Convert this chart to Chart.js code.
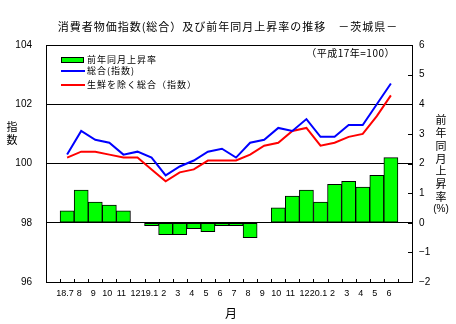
<!DOCTYPE html>
<html lang="ja">
<head>
<meta charset="utf-8">
<title>消費者物価指数の推移 茨城県</title>
<script src="https://cdn.jsdelivr.net/npm/chart.js@4"></script>
<style>
  html, body { margin: 0; padding: 0; background: #fff; }
</style>
</head>
<body>
<canvas id="cpiChart" width="456" height="324"></canvas>
<script>
// Months, H18.7 - H20.6
const months = ['18.7', '8', '9', '10', '11', '12', '19.1', '2', '3', '4', '5', '6',
                '7', '8', '9', '10', '11', '12', '20.1', '2', '3', '4', '5', '6'];
// Year-on-year change (%)
const yoyRate = [0.4, 1.1, 0.7, 0.6, 0.4, 0.0, -0.1, -0.4, -0.4, -0.2, -0.3, -0.1,
                 -0.1, -0.5, 0.0, 0.5, 0.9, 1.1, 0.7, 1.3, 1.4, 1.2, 1.6, 2.2];
// All items index (H17 = 100)
const totalIndex = [100.3, 101.1, 100.8, 100.7, 100.3, 100.4, 100.2, 99.6, 99.9, 100.1, 100.4, 100.5,
                    100.2, 100.7, 100.8, 101.2, 101.1, 101.5, 100.9, 100.9, 101.3, 101.3, 102.0, 102.7];
// All items less fresh food
const coreIndex = [100.2, 100.4, 100.4, 100.3, 100.2, 100.2, 99.8, 99.4, 99.7, 99.8, 100.1, 100.1,
                   100.1, 100.3, 100.6, 100.7, 101.1, 101.2, 100.6, 100.7, 100.9, 101.0, 101.6, 102.3];

const indexTicks = [96, 98, 100, 102, 104];
const rateTicks = [-2, -1, 0, 1, 2, 3, 4, 5, 6];

const JP = '"Noto Sans CJK JP", sans-serif';
const NUM = '"Liberation Sans", "Noto Sans CJK JP", sans-serif';

// one empty slot on each side of the months
const pad = arr => [null, ...arr, null];
const labels = ['', ...months, ''];

// vertical text, one character per row
function drawVertical(ctx, chars, x, y, step) {
  chars.forEach((c, i) => ctx.fillText(c, x, y + i * step));
}

const textPlugin = {
  id: 'cpiText',
  afterDraw(chart) {
    const ctx = chart.ctx;
    const area = chart.chartArea;
    const xs = chart.scales.x;
    const y2 = chart.scales.y2;
    ctx.save();
    ctx.fillStyle = '#000';
    ctx.strokeStyle = '#000';
    ctx.lineWidth = 1;

    // tick marks pointing into the plot
    ctx.beginPath();
    for (let i = 1; i <= months.length + 1; i++) {
      const px = Math.round((xs.getPixelForValue(i - 1) + xs.getPixelForValue(i)) / 2) + 0.5;
      ctx.moveTo(px, area.bottom);
      ctx.lineTo(px, area.bottom - 3);
    }
    rateTicks.slice(1, -1).forEach(v => {
      const py = Math.round(y2.getPixelForValue(v)) + 0.5;
      ctx.moveTo(area.right, py);
      ctx.lineTo(area.right - 4, py);
    });
    ctx.stroke();

    // title
    ctx.letterSpacing = '1px';
    ctx.font = '11px ' + JP;
    ctx.textAlign = 'center';
    ctx.textBaseline = 'middle';
    ctx.fillText('消費者物価指数(総合）及び前年同月上昇率の推移　－茨城県－', 228, 27);

    // base year note
    ctx.font = '10px ' + JP;
    ctx.letterSpacing = '0.5px';
    ctx.textAlign = 'right';
    ctx.fillText('（平成17年=100）', 395, 53);

    // legend
    const ds = chart.data.datasets;
    ctx.letterSpacing = '1px';
    ctx.font = '9px ' + JP;
    ctx.textAlign = 'left';
    ctx.fillStyle = ds[2].backgroundColor;
    ctx.fillRect(61, 57, 22, 5);
    ctx.strokeRect(61.5, 57.5, 22, 5);
    ctx.lineWidth = 2;
    ctx.strokeStyle = ds[0].borderColor;
    ctx.beginPath(); ctx.moveTo(61, 71); ctx.lineTo(85, 71); ctx.stroke();
    ctx.strokeStyle = ds[1].borderColor;
    ctx.beginPath(); ctx.moveTo(61, 85); ctx.lineTo(85, 85); ctx.stroke();
    ctx.fillStyle = '#000';
    ctx.fillText(ds[2].label, 87, 59.5);
    ctx.fillText(ds[0].label, 87, 71);
    ctx.fillText(ds[1].label, 87, 85);

    // axis titles
    ctx.letterSpacing = '0px';
    ctx.textAlign = 'center';
    ctx.font = '11px ' + JP;
    drawVertical(ctx, ['指', '数'], 12, 127, 13);
    drawVertical(ctx, ['前', '年', '同', '月', '上', '昇', '率'], 441, 120, 12.8);
    ctx.font = '10px ' + NUM;
    ctx.fillText('(%)', 441, 120 + 7 * 12.8);
    ctx.font = '12px ' + JP;
    ctx.fillText('月', 231, 313);
    ctx.restore();
  }
};

new Chart(document.getElementById('cpiChart'), {
  data: {
    labels: labels,
    datasets: [
      {
        type: 'line',
        label: '総合(指数)',
        data: pad(totalIndex),
        yAxisID: 'y',
        borderColor: '#0000ff',
        borderWidth: 2,
        pointRadius: 0,
        tension: 0
      },
      {
        type: 'line',
        label: '生鮮を除く総合（指数）',
        data: pad(coreIndex),
        yAxisID: 'y',
        borderColor: '#ff0000',
        borderWidth: 2,
        pointRadius: 0,
        tension: 0
      },
      {
        type: 'bar',
        label: '前年同月上昇率',
        data: pad(yoyRate),
        yAxisID: 'y2',
        backgroundColor: '#00ff00',
        borderColor: '#000000',
        borderWidth: 1,
        borderSkipped: false,
        barPercentage: 1,
        categoryPercentage: 1
      }
    ]
  },
  options: {
    responsive: false,
    animation: false,
    layout: { padding: { top: 45, left: 0, right: 0, bottom: 0 } },
    plugins: {
      legend: { display: false },
      tooltip: { enabled: false }
    },
    scales: {
      x: {
        offset: true,
        grid: { drawOnChartArea: false, drawTicks: false },
        border: { color: '#000', width: 1 },
        ticks: {
          autoSkip: false,
          maxRotation: 0,
          padding: 6,
          labelOffset: -2,
          color: '#000',
          font: { family: NUM, size: 9 }
        },
        afterFit: s => { s.height = 42; }
      },
      y: {
        position: 'left',
        min: indexTicks[0],
        max: indexTicks[indexTicks.length - 1],
        afterBuildTicks: s => { s.ticks = indexTicks.map(v => ({ value: v })); },
        grid: { color: '#000', lineWidth: 1, drawTicks: false },
        border: { color: '#000', width: 1 },
        ticks: { padding: 14, color: '#000', font: { family: NUM, size: 10 } },
        afterFit: s => { s.width = 46; }
      },
      y2: {
        position: 'right',
        min: rateTicks[0],
        max: rateTicks[rateTicks.length - 1],
        afterBuildTicks: s => { s.ticks = rateTicks.map(v => ({ value: v })); },
        grid: { drawOnChartArea: false, drawTicks: false },
        border: { color: '#000', width: 1 },
        ticks: {
          padding: 7,
          color: '#000',
          font: { family: NUM, size: 10 },
          callback: v => (v < 0 ? '−' + Math.abs(v) : String(v))
        },
        afterFit: s => { s.width = 44; }
      }
    }
  },
  plugins: [textPlugin]
});
</script>
</body>
</html>
